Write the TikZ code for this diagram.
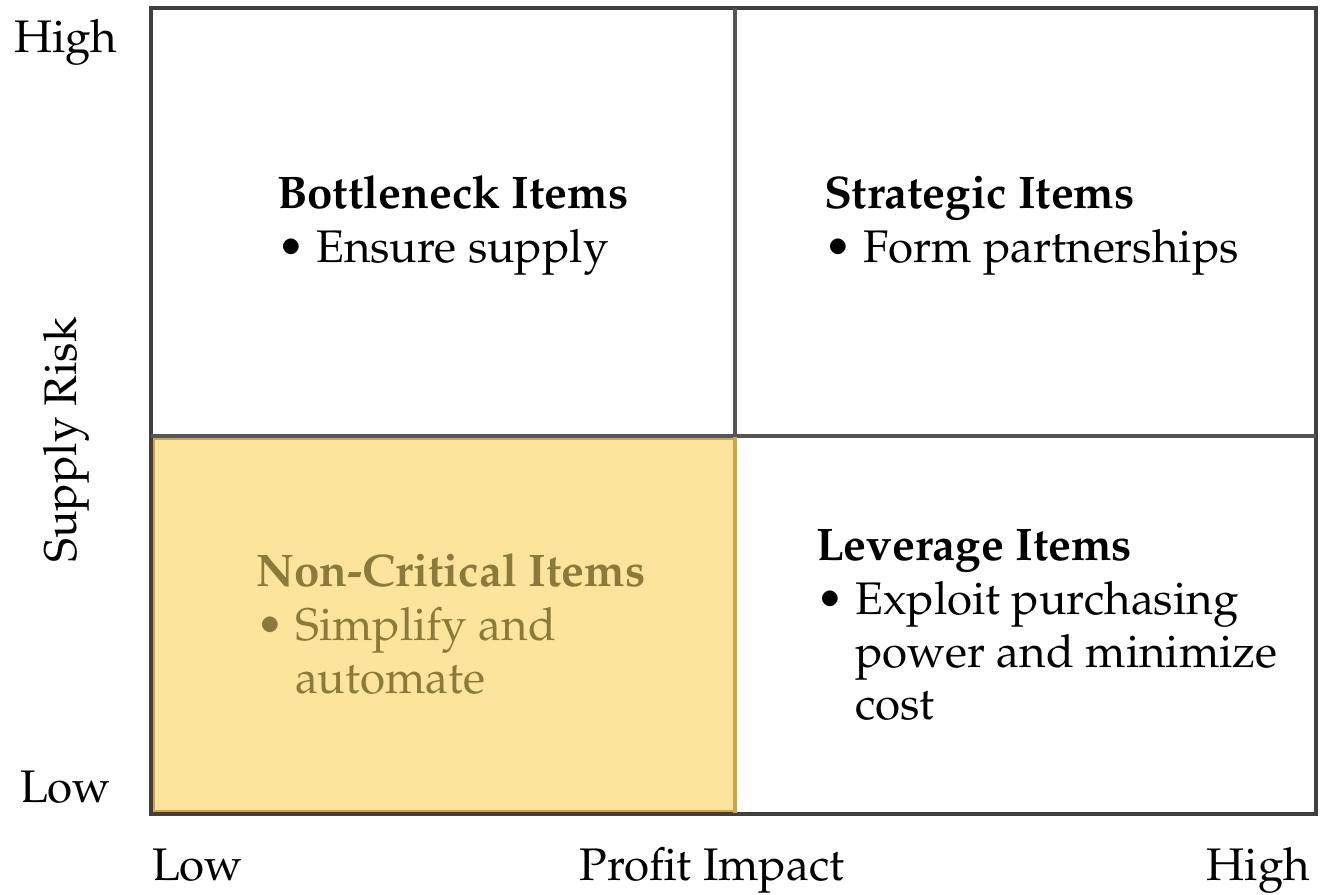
\documentclass[tikz,border=0pt]{standalone}
\usepackage[T1]{fontenc}
\usepackage{mathpazo}
\usetikzlibrary{positioning}
\definecolor{nyellow}{RGB}{252, 228, 156}
\definecolor{ngold}{RGB}{203, 169, 74}
\definecolor{nbrown}{RGB}{140, 122, 58}
\definecolor{ngrid}{RGB}{85, 85, 85}

\begin{document}
\begin{tikzpicture}[x=0.02cm,y=-0.02cm,thick]
    \tikzstyle{every node}=[inner sep=0,outer sep=0,font=\fontsize{26}{30}\selectfont]
    \tikzstyle{head}=[anchor=base west,font=\fontsize{26}{30}\selectfont\bfseries]
    \tikzstyle{item}=[align=left]
    \useasboundingbox (0,0) rectangle (1324,894);
    % quadrants
    \fill[nyellow] (151,436) rectangle (735,814);
    \draw[ngold, line width=2.1pt] (153,438) rectangle (735,812);
    \draw[black!75, line width=2.1pt] (151,8) rectangle (1316,814);
    \draw[ngrid, line width=2.1pt] (735,8) -- (735,436);
    \draw[ngrid, line width=2.1pt] (151,436) -- (1316,436);
    \draw[ngold, line width=2.1pt] (735,437) -- (735,813);
    % axes
    \node[anchor=base west] (yhigh) at (14,52) {High};
    \node[anchor=base west] (ylow) at (20,802) {Low};
    \node[rotate=90] (ylab) at (66,440) {Supply Risk};
    \node[anchor=base west] (xlow) at (152,880) {Low};
    \node[anchor=base] (xlab) at (712,880) {Profit Impact};
    \node[anchor=base east] (xhigh) at (1310,880) {High};
    % cells
    \node[head] (bn) at (277,208) {Bottleneck Items};
    \node[item, below=10pt of bn.base west, anchor=north west] (bni) {\strut\textbullet\ Ensure supply};
    \node[head] (st) at (824,208) {Strategic Items};
    \node[item, below=10pt of st.base west, anchor=north west] (sti) {\strut\textbullet\ Form partnerships};
    \node[head, text=nbrown] (nc) at (256,586) {Non-Critical Items};
    \node[item, text=nbrown, below=10pt of nc.base west, anchor=north west] (nci)
        {\strut\textbullet\ Simplify and\\\hphantom{\textbullet\ }automate};
    \node[head] (lv) at (816,560) {Leverage Items};
    \node[item, below=10pt of lv.base west, anchor=north west] (lvi)
        {\strut\textbullet\ Exploit purchasing\\\hphantom{\textbullet\ }power and minimize\\\hphantom{\textbullet\ }cost};
\end{tikzpicture}
\end{document}
